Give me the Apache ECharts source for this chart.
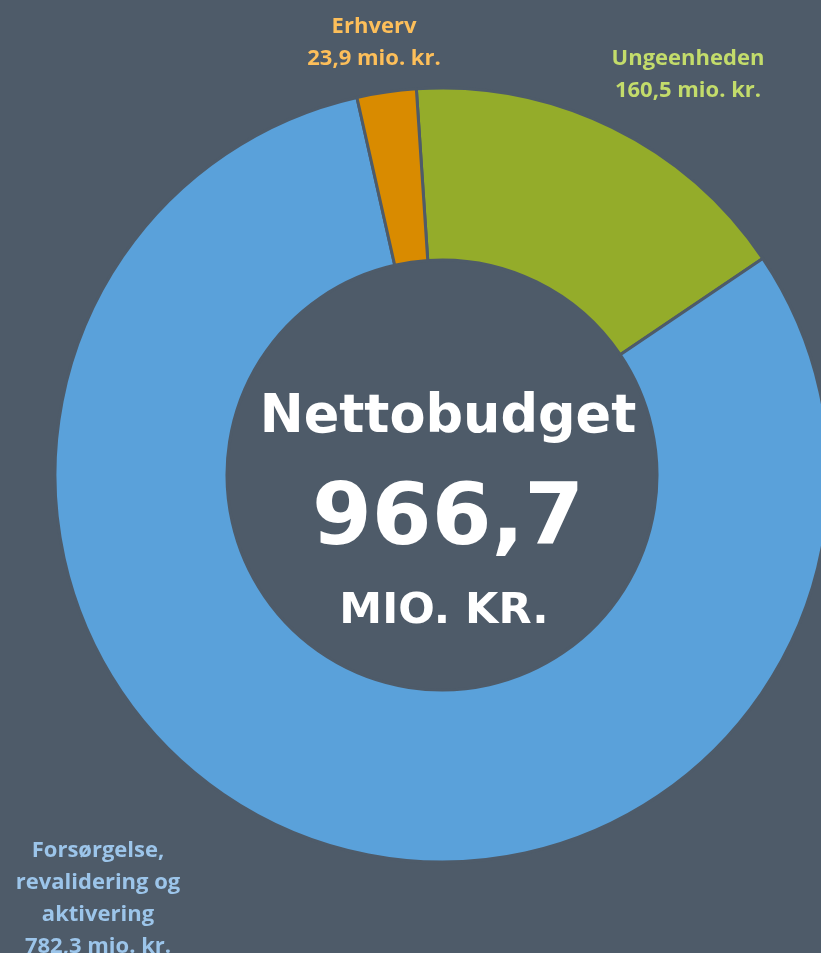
<!DOCTYPE html>
<html>
<head>
<meta charset="utf-8">
<script src="https://cdn.jsdelivr.net/npm/echarts@6/dist/echarts.min.js"></script>
<style>
  html, body { margin: 0; padding: 0; background: #4e5b69; }
  #chart { width: 821px; height: 953px; }
</style>
</head>
<body>
<div id="chart"></div>
<script>
// budget parts, mio. kr.
var names = ['Ungeenheden', 'Forsørgelse, revalidering og aktivering', 'Erhverv'];
var labelLines = [['Ungeenheden'], ['Forsørgelse,', 'revalidering og', 'aktivering'], ['Erhverv']];
var values = [160.5, 782.3, 23.9];
var sliceColors = ['#94ac2a', '#5aa1da', '#d98b00'];
var textColors = ['#c3dc6b', '#9cc5ea', '#fdbf5a'];

var bg = '#4e5b69';
var total = values.reduce(function (a, b) { return a + b; }, 0);

function fmt(v) {
    return v.toFixed(1).replace('.', ',');
}

var myChart = echarts.init(document.getElementById('chart'));

// where each label block sits (centre x, y of first line)
var labelPos = [[688, 59], [98, 851], [374, 27]];
var lineH = 32;

var graphics = [];
for (var i = 0; i < names.length; i++) {
    var lines = labelLines[i].concat([fmt(values[i]) + ' mio. kr.']);
    graphics.push({
        type: 'text',
        x: labelPos[i][0],
        y: labelPos[i][1] - lineH / 2,
        style: {
            text: lines.join('\n'),
            fill: textColors[i],
            font: 'bold 22px "Open Sans", sans-serif',
            lineHeight: lineH,
            align: 'center',
            verticalAlign: 'top'
        }
    });
}

graphics.push(
    {
        type: 'text', x: 448, y: 418,
        style: { text: 'Nettobudget', fill: '#fff', font: 'bold 52.5px "DejaVu Sans"', align: 'center', verticalAlign: 'middle' }
    },
    {
        type: 'text', x: 448, y: 522,
        style: { text: fmt(total), fill: '#fff', font: 'bold 86px "DejaVu Sans"', align: 'center', verticalAlign: 'middle' }
    },
    {
        type: 'text', x: 444, y: 612,
        style: { text: 'MIO. KR.', fill: '#fff', font: 'bold 43px "DejaVu Sans"', align: 'center', verticalAlign: 'middle' }
    }
);

var option = {
    backgroundColor: bg,
    animation: false,
    graphic: graphics,
    series: [{
        type: 'pie',
        center: [442, 475],
        radius: [215, 387],
        startAngle: 93.8,
        clockwise: true,
        label: { show: false },
        labelLine: { show: false },
        itemStyle: { borderColor: bg, borderWidth: 3 },
        emphasis: { disabled: true },
        data: names.map(function (n, i) {
            return { name: n, value: values[i], itemStyle: { color: sliceColors[i] } };
        })
    }]
};
myChart.setOption(option);
</script>
</body>
</html>
